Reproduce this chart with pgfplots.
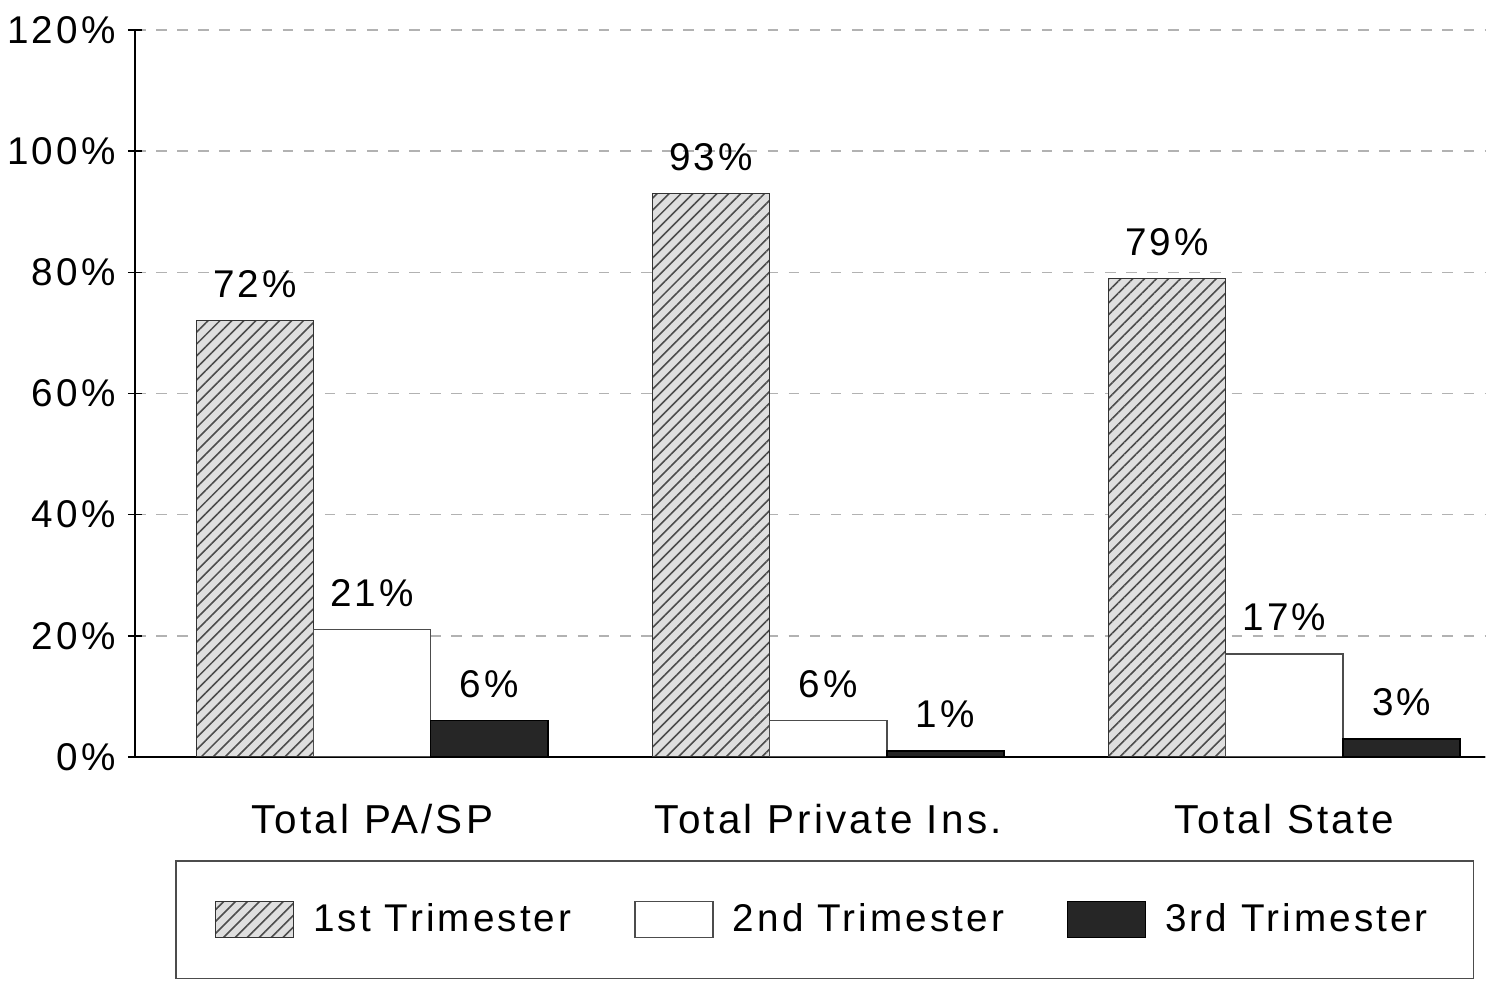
\documentclass[border=0pt]{standalone}
\usepackage{pgfplots}
\pgfplotsset{compat=1.18}
\usepackage{fontspec}
\setmainfont{Liberation Sans}[LetterSpace=8]
\usetikzlibrary{patterns,patterns.meta}
\begin{document}
\begin{tikzpicture}
\begin{axis}[
  scale only axis,
  width=13.5cm, height=7.27cm,
  ymin=0, ymax=120, ytick={0,20,...,120},
  yticklabel={\pgfmathprintnumber{\tick}\%},
  /pgf/number format/assume math mode=true,
  xmin=-0.52, xmax=2.44,
  xtick={0,1,2},
  xticklabels={Total PA/SP, Total Private Ins., Total State},
  xtick style={draw=none},
  ytick style={black, thin},
  tick align=outside,
  major tick length=4pt,
  axis x line=bottom, axis y line=left,
  axis line style={-, black, thin},
  ymajorgrids, grid style={dashed, gray!60},
  ybar=0pt, bar width=0.257,
  yticklabel style={font=\fontsize{11}{13}\selectfont},
  xticklabel style={font=\fontsize{11.5}{14}\selectfont, yshift=-6pt},
  nodes near coords={\pgfmathprintnumber{\pgfplotspointmeta}\%},
  nodes near coords style={font=\fontsize{11}{13}\selectfont, /pgf/number format/assume math mode=true, yshift=3pt},
  legend style={at={(0.03,-0.142)}, anchor=north west, draw=black!70,
    legend columns=3, font=\fontsize{11}{13}\selectfont,
    /tikz/every odd column/.append style={column sep=0.12cm},
    /tikz/every even column/.append style={column sep=0.56cm},
    inner xsep=11pt, inner ysep=10pt},
  legend image code/.code={\draw[#1] (0cm,-0.18cm) rectangle (0.78cm,0.18cm);},
]
\addplot[draw=black!80, fill=gray!25, postaction={pattern={Lines[angle=45, distance=2.4pt, line width=0.45pt]}, pattern color=black!70}]
  coordinates {(0,72) (1,93) (2,79)};
\addplot[draw=black!70, fill=white] coordinates {(0,21) (1,6) (2,17)};
\addplot[draw=black, fill=black!85] coordinates {(0,6) (1,1) (2,3)};
\legend{1st Trimester, 2nd Trimester, 3rd Trimester}
\end{axis}
\pgfresetboundingbox
\useasboundingbox ([shift={(-1.35cm,-2.25cm)}]current axis.south west) rectangle ([shift={(0.04cm,0.3cm)}]current axis.north east);
\end{tikzpicture}
\end{document}
